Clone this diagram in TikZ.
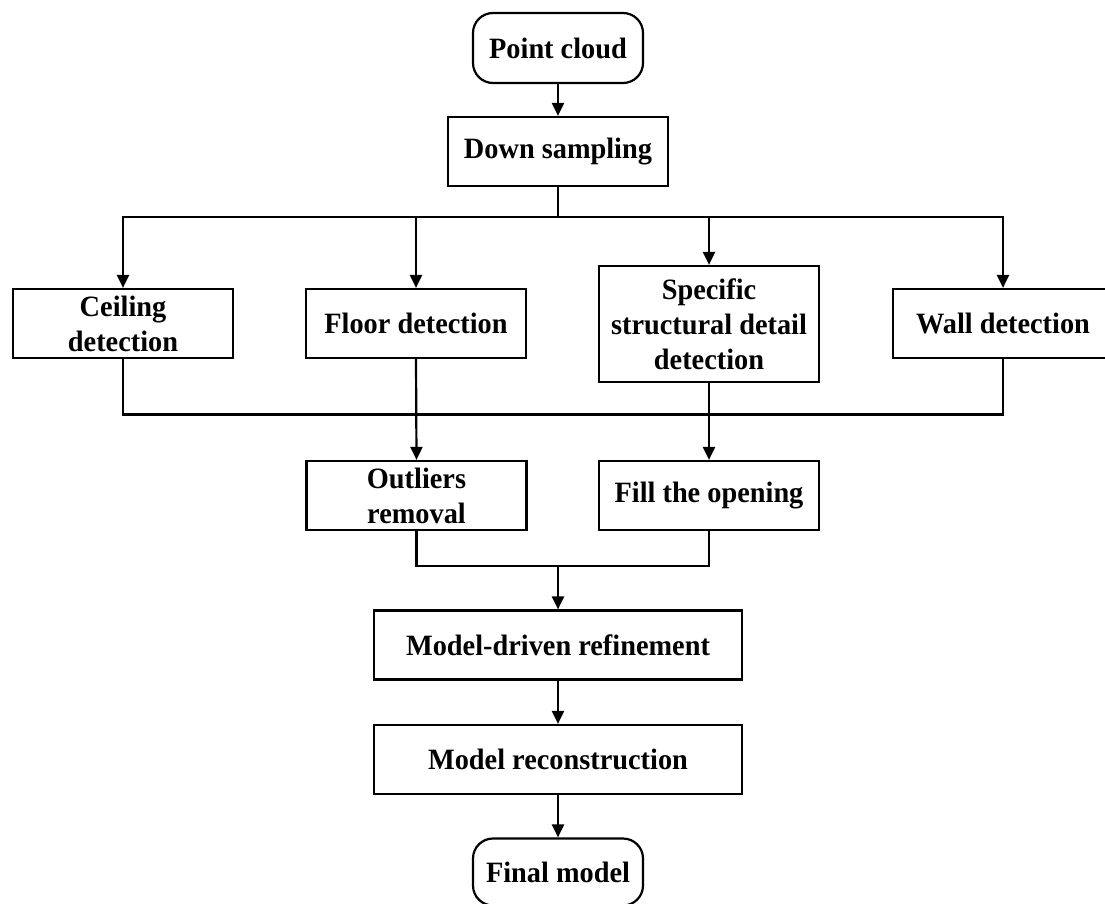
\documentclass[tikz,border=0pt]{standalone}
\usepackage{fontspec}
\setmainfont{Liberation Serif}[FakeStretch=0.96]
\usetikzlibrary{arrows.meta}
\begin{document}
\begin{tikzpicture}[x=1pt,y=-1pt,
  every node/.style={font=\fontsize{29.5}{35}\selectfont\bfseries, align=center, inner sep=0pt},
  box/.style={draw, line width=2.2pt, minimum width=220pt, minimum height=69pt},
  widebox/.style={box, minimum width=368pt},
  termbox/.style={draw, line width=2.2pt, rounded corners=20pt, minimum width=170pt, minimum height=70pt},
  link/.style={line width=2.2pt},
  arr/.style={link, -{Triangle[length=13pt,width=12pt]}}
]
\useasboundingbox (0,0) rectangle (1105,904);
\node[termbox] (pc) at (558,48) {Point cloud};
\node[box] (ds) at (558,151.5) {Down sampling};
\node[box] (ceil) at (123,323.5) {Ceiling\\detection};
\node[box] (floor) at (416,323.5) {Floor detection};
\node[box, minimum height=116pt] (spec) at (709,324) {Specific\\structural detail\\detection};
\node[box] (wall) at (1003,323.5) {Wall detection};
\node[box] (out) at (416.5,495.5) {Outliers\\removal};
\node[box] (fill) at (709,495.5) {Fill the opening};
\node[widebox] (mdr) at (558,645) {Model-driven refinement};
\node[widebox] (mrc) at (558,759.5) {Model reconstruction};
\node[termbox, minimum height=67pt] (fin) at (558,872) {Final model};

\coordinate (b) at (558,217);
\coordinate (m1) at (123,414.5);
\coordinate (m2) at (1003,414.5);
\coordinate (m3) at (558,566);

\draw[arr] (pc.south) -- (ds.north);
\draw[link] (ds.south) -- (b);
\draw[arr] (b) -| (ceil.north);
\draw[arr] (b) -| (floor.north);
\draw[arr] (b) -| (spec.north);
\draw[arr] (b) -| (wall.north);
\draw[link] (ceil.south) -- (m1) -- (m2) -- (wall.south);
\draw[arr] (floor.south) -- (out.north);
\draw[arr] (spec.south) -- (fill.north);
\draw[link] (out.south) -- (out.south |- m3) -- (fill.south |- m3) -- (fill.south);
\draw[arr] (m3) -- (mdr.north);
\draw[arr] (mdr.south) -- (mrc.north);
\draw[arr] (mrc.south) -- (fin.north);
\end{tikzpicture}
\end{document}
